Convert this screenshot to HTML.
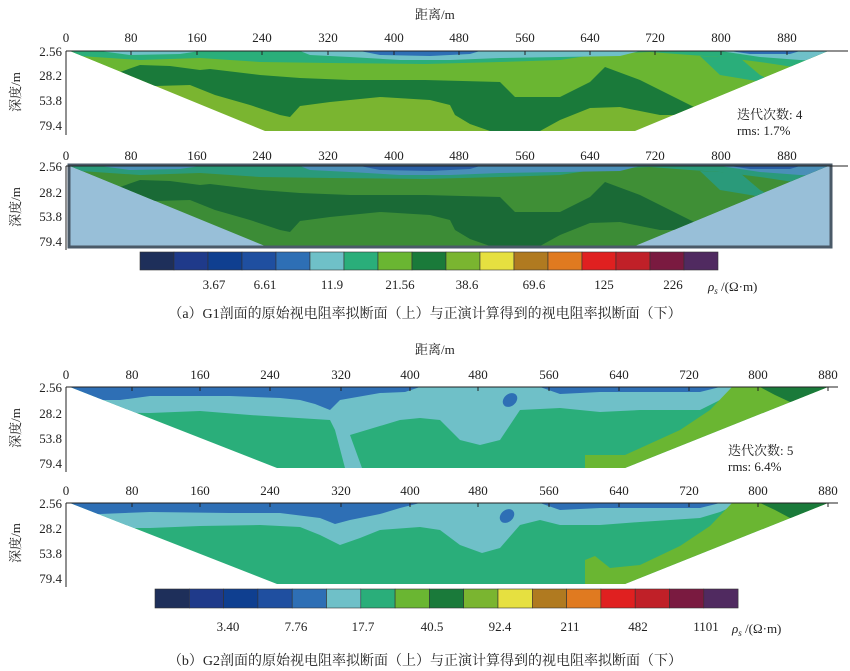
<!DOCTYPE html>
<html><head><meta charset="utf-8"><style>
html,body{margin:0;padding:0;background:#fff;}
svg{display:block;}
text{font-family:"Liberation Serif","Noto Serif CJK SC",serif;font-size:13px;fill:#222;}
</style></head><body>
<svg width="850" height="671" viewBox="0 0 850 671" xmlns="http://www.w3.org/2000/svg">
<defs>
<clipPath id="tA"><polygon points="70,51 828,51 635,131 265,131"/></clipPath>
<clipPath id="tB"><polygon points="70,387 828,387 625,468 277,468"/></clipPath>
<clipPath id="tB2"><polygon points="70,503 828,503 625,584 277,584"/></clipPath>
<g id="adata">
 <rect x="60" y="45" width="780" height="90" style="fill:var(--bot)"/>
 <polygon style="fill:var(--lg)" points="60,50 840,50 840,131 700,110 680,115 660,115 620,107 590,108 560,120 540,131 490,131 470,124 455,115 450,105 430,100 380,97 330,102 300,106 290,117 280,115 250,105 215,95 190,85 155,86 60,80"/>
 <polygon style="fill:var(--dg)" points="120,72 140,65 170,66 200,70 210,69 260,75 300,78 350,80 425,80 500,82 515,97 560,97 590,82 605,67 640,80 680,100 700,110 680,115 660,115 620,107 590,108 560,120 540,131 490,131 470,124 455,115 450,105 430,100 380,97 330,102 300,106 290,117 280,115 250,105 215,95 190,85 155,86 120,80"/>
 <polygon style="fill:var(--tl)" points="60,50 840,50 840,85 800,68 760,62 720,57 690,55 650,52 600,54 560,60 500,62 425,64 330,63 260,62 200,58 140,60 80,56 60,55"/>
 <polygon style="fill:var(--tl)" points="700,56 740,58 760,75 770,80 780,85 720,75"/>
 <polygon style="fill:var(--lt)" points="300,51 640,51 620,56 560,57 500,58 450,60 400,60 350,57 310,55"/>
 <polygon style="fill:var(--lt)" points="720,51 840,51 840,62 800,60 760,57"/>
 <polygon style="fill:var(--bl)" points="360,51 480,51 470,54 430,56 380,55"/>
 <polygon style="fill:var(--bl)" points="730,51 800,51 790,54 750,54"/>
 <polygon style="fill:var(--lt)" points="100,51 200,51 180,54 130,55"/>
</g>
<g id="bdata">
 <rect x="60" y="380" width="780" height="95" fill="#2aae7a"/>
 <polygon fill="#6fc0c8" points="60,387 740,387 720,400 700,410 640,410 600,412 560,408 520,410 500,440 480,445 460,440 440,420 420,418 400,420 360,432 350,435 362,468 345,468 335,430 330,420 250,415 200,411 150,413 60,412"/>
 <polygon fill="#2e6fb5" points="60,387 420,387 405,392 380,393 340,400 330,410 315,404 300,400 280,398 230,396 150,396 120,400 100,400 60,398"/>
 <ellipse cx="510" cy="400" rx="8" ry="6" fill="#2e6fb5" transform="rotate(-40 510 400)"/>
 <polygon fill="#2e6fb5" points="540,387 720,387 700,392 650,392 600,392 560,394"/>
 <polygon fill="#6ab632" points="732,387 840,387 840,470 585,470 585,455 625,455 680,430 710,410"/>
 <polygon fill="#1a7a3a" points="760,387 828,387 810,400 790,402 775,395"/>
</g>
<g id="bdata2">
 <rect x="60" y="496" width="780" height="95" fill="#2aae7a"/>
 <polygon fill="#6fc0c8" points="60,503 740,503 720,512 700,518 640,522 600,525 560,525 540,520 520,525 500,548 482,553 460,545 440,530 420,527 380,530 360,538 340,545 320,535 300,527 260,525 200,526 150,528 60,528"/>
 <polygon fill="#2e6fb5" points="60,503 420,503 400,508 380,514 350,520 335,524 320,518 280,513 230,513 150,512 100,514 60,514"/>
 <ellipse cx="507" cy="516" rx="8" ry="6" fill="#2e6fb5" transform="rotate(-40 507 516)"/>
 <polygon fill="#2e6fb5" points="540,503 720,503 700,508 650,508 600,508 560,510"/>
 <polygon fill="#6ab632" points="732,503 840,503 840,590 585,590 585,560 595,556 610,568 640,565 680,546 710,526"/>
 <polygon fill="#1a7a3a" points="760,503 828,503 810,518 790,518 775,510"/>
</g>
</defs>

<text x="415" y="19">距离/m</text>
<g text-anchor="middle">
<text x="66" y="42">0</text><text x="131" y="42">80</text><text x="197" y="42">160</text><text x="262" y="42">240</text><text x="328" y="42">320</text><text x="394" y="42">400</text><text x="459" y="42">480</text><text x="525" y="42">560</text><text x="590" y="42">640</text><text x="655" y="42">720</text><text x="721" y="42">800</text><text x="787" y="42">880</text>
</g>
<g clip-path="url(#tA)" style="--bot:#7ab530;--lg:#6ab632;--dg:#1a7a3a;--tl:#2aae7a;--lt:#6fc0c8;--bl:#2e6fb5">
 <use href="#adata"/>
</g>
<line x1="66" y1="51" x2="848" y2="51" stroke="#222"/>
<line x1="66" y1="51" x2="66" y2="135" stroke="#222"/>
<g stroke="#222"><line x1="131" y1="51" x2="131" y2="55"/><line x1="197" y1="51" x2="197" y2="55"/><line x1="262" y1="51" x2="262" y2="55"/><line x1="328" y1="51" x2="328" y2="55"/><line x1="394" y1="51" x2="394" y2="55"/><line x1="459" y1="51" x2="459" y2="55"/><line x1="525" y1="51" x2="525" y2="55"/><line x1="590" y1="51" x2="590" y2="55"/><line x1="655" y1="51" x2="655" y2="55"/><line x1="721" y1="51" x2="721" y2="55"/><line x1="787" y1="51" x2="787" y2="55"/></g>
<g text-anchor="end"><text x="62" y="56">2.56</text><text x="62" y="80">28.2</text><text x="62" y="105">53.8</text><text x="62" y="130">79.4</text></g>
<text transform="translate(20,92) rotate(-90)" text-anchor="middle">深度/m</text>
<text x="737" y="119">迭代次数: 4</text>
<text x="737" y="135">rms: 1.7%</text>

<g text-anchor="middle">
<text x="66" y="160">0</text><text x="131" y="160">80</text><text x="197" y="160">160</text><text x="262" y="160">240</text><text x="328" y="160">320</text><text x="394" y="160">400</text><text x="459" y="160">480</text><text x="525" y="160">560</text><text x="590" y="160">640</text><text x="655" y="160">720</text><text x="721" y="160">800</text><text x="787" y="160">880</text>
</g>
<rect x="69" y="165" width="762" height="82" fill="#98bfd8"/>
<g transform="translate(0,115)"><g clip-path="url(#tA)" style="--bot:#3c8c36;--lg:#3f8f36;--dg:#1a6a36;--tl:#2a9a7a;--lt:#4a8fb8;--bl:#2a5fa5">
 <use href="#adata"/>
</g></g>
<rect x="69" y="165" width="762" height="82" fill="none" stroke="#4a5a68" stroke-width="3"/>
<line x1="66" y1="166" x2="848" y2="166" stroke="#222"/>
<line x1="66" y1="166" x2="66" y2="250" stroke="#222"/>
<g text-anchor="end"><text x="62" y="171">2.56</text><text x="62" y="197">28.2</text><text x="62" y="221">53.8</text><text x="62" y="246">79.4</text></g>
<text transform="translate(20,207) rotate(-90)" text-anchor="middle">深度/m</text>

<g stroke="#333" stroke-width="0.6">
<rect x="140" y="252" width="34" height="18" fill="#1e2f5a"/><rect x="174" y="252" width="34" height="18" fill="#1f3a8a"/><rect x="208" y="252" width="34" height="18" fill="#0f3f90"/><rect x="242" y="252" width="34" height="18" fill="#1f4fa0"/><rect x="276" y="252" width="34" height="18" fill="#2e6fb5"/><rect x="310" y="252" width="34" height="18" fill="#6fc0c8"/><rect x="344" y="252" width="34" height="18" fill="#2aae7a"/><rect x="378" y="252" width="34" height="18" fill="#6ab632"/><rect x="412" y="252" width="34" height="18" fill="#1a7a3a"/><rect x="446" y="252" width="34" height="18" fill="#7ab530"/><rect x="480" y="252" width="34" height="18" fill="#e6e040"/><rect x="514" y="252" width="34" height="18" fill="#b07a20"/><rect x="548" y="252" width="34" height="18" fill="#e07a20"/><rect x="582" y="252" width="34" height="18" fill="#e02020"/><rect x="616" y="252" width="34" height="18" fill="#c02028"/><rect x="650" y="252" width="34" height="18" fill="#7a1a40"/><rect x="684" y="252" width="34" height="18" fill="#502a60"/>
</g>
<g text-anchor="middle"><text x="214" y="289">3.67</text><text x="265" y="289">6.61</text><text x="332" y="289">11.9</text><text x="400" y="289">21.56</text><text x="467" y="289">38.6</text><text x="534" y="289">69.6</text><text x="604" y="289">125</text><text x="673" y="289">226</text></g>
<text x="708" y="291" font-style="italic">ρ<tspan font-size="9" dy="3">s</tspan><tspan dy="-3" font-style="normal"> /(Ω·m)</tspan></text>
<text x="425" y="318" text-anchor="middle" style="font-size:14px">（a）G1剖面的原始视电阻率拟断面（上）与正演计算得到的视电阻率拟断面（下）</text>

<text x="415" y="354">距离/m</text>
<g text-anchor="middle">
<text x="66" y="379">0</text><text x="132" y="379">80</text><text x="200" y="379">160</text><text x="270" y="379">240</text><text x="341" y="379">320</text><text x="410" y="379">400</text><text x="478" y="379">480</text><text x="549" y="379">560</text><text x="619" y="379">640</text><text x="689" y="379">720</text><text x="758" y="379">800</text><text x="828" y="379">880</text>
</g>
<g clip-path="url(#tB)"><use href="#bdata"/></g>
<line x1="66" y1="387" x2="838" y2="387" stroke="#222"/>
<line x1="66" y1="387" x2="66" y2="472" stroke="#222"/>
<g stroke="#222"><line x1="132" y1="387" x2="132" y2="391"/><line x1="200" y1="387" x2="200" y2="391"/><line x1="270" y1="387" x2="270" y2="391"/><line x1="341" y1="387" x2="341" y2="391"/><line x1="410" y1="387" x2="410" y2="391"/><line x1="478" y1="387" x2="478" y2="391"/><line x1="549" y1="387" x2="549" y2="391"/><line x1="619" y1="387" x2="619" y2="391"/><line x1="689" y1="387" x2="689" y2="391"/><line x1="758" y1="387" x2="758" y2="391"/><line x1="828" y1="387" x2="828" y2="391"/></g>
<g text-anchor="end"><text x="62" y="392">2.56</text><text x="62" y="418">28.2</text><text x="62" y="443">53.8</text><text x="62" y="468">79.4</text></g>
<text transform="translate(20,428) rotate(-90)" text-anchor="middle">深度/m</text>
<text x="728" y="455">迭代次数: 5</text>
<text x="728" y="471">rms: 6.4%</text>

<g text-anchor="middle">
<text x="66" y="495">0</text><text x="132" y="495">80</text><text x="200" y="495">160</text><text x="270" y="495">240</text><text x="341" y="495">320</text><text x="410" y="495">400</text><text x="478" y="495">480</text><text x="549" y="495">560</text><text x="619" y="495">640</text><text x="689" y="495">720</text><text x="758" y="495">800</text><text x="828" y="495">880</text>
</g>
<g clip-path="url(#tB2)"><use href="#bdata2"/></g>
<line x1="66" y1="503" x2="838" y2="503" stroke="#222"/>
<line x1="66" y1="503" x2="66" y2="587" stroke="#222"/>
<g stroke="#222"><line x1="132" y1="503" x2="132" y2="507"/><line x1="200" y1="503" x2="200" y2="507"/><line x1="270" y1="503" x2="270" y2="507"/><line x1="341" y1="503" x2="341" y2="507"/><line x1="410" y1="503" x2="410" y2="507"/><line x1="478" y1="503" x2="478" y2="507"/><line x1="549" y1="503" x2="549" y2="507"/><line x1="619" y1="503" x2="619" y2="507"/><line x1="689" y1="503" x2="689" y2="507"/><line x1="758" y1="503" x2="758" y2="507"/><line x1="828" y1="503" x2="828" y2="507"/></g>
<g text-anchor="end"><text x="62" y="508">2.56</text><text x="62" y="533">28.2</text><text x="62" y="558">53.8</text><text x="62" y="583">79.4</text></g>
<text transform="translate(20,543) rotate(-90)" text-anchor="middle">深度/m</text>

<g stroke="#333" stroke-width="0.6">
<rect x="155" y="589" width="34.3" height="19" fill="#1e2f5a"/><rect x="189.3" y="589" width="34.3" height="19" fill="#1f3a8a"/><rect x="223.6" y="589" width="34.3" height="19" fill="#0f3f90"/><rect x="257.9" y="589" width="34.3" height="19" fill="#1f4fa0"/><rect x="292.2" y="589" width="34.3" height="19" fill="#2e6fb5"/><rect x="326.5" y="589" width="34.3" height="19" fill="#6fc0c8"/><rect x="360.8" y="589" width="34.3" height="19" fill="#2aae7a"/><rect x="395.1" y="589" width="34.3" height="19" fill="#6ab632"/><rect x="429.4" y="589" width="34.3" height="19" fill="#1a7a3a"/><rect x="463.7" y="589" width="34.3" height="19" fill="#7ab530"/><rect x="498" y="589" width="34.3" height="19" fill="#e6e040"/><rect x="532.3" y="589" width="34.3" height="19" fill="#b07a20"/><rect x="566.6" y="589" width="34.3" height="19" fill="#e07a20"/><rect x="600.9" y="589" width="34.3" height="19" fill="#e02020"/><rect x="635.2" y="589" width="34.3" height="19" fill="#c02028"/><rect x="669.5" y="589" width="34.3" height="19" fill="#7a1a40"/><rect x="703.8" y="589" width="34.3" height="19" fill="#502a60"/>
</g>
<g text-anchor="middle"><text x="228" y="631">3.40</text><text x="296" y="631">7.76</text><text x="363" y="631">17.7</text><text x="432" y="631">40.5</text><text x="500" y="631">92.4</text><text x="570" y="631">211</text><text x="638" y="631">482</text><text x="706" y="631">1101</text></g>
<text x="732" y="633" font-style="italic">ρ<tspan font-size="9" dy="3">s</tspan><tspan dy="-3" font-style="normal"> /(Ω·m)</tspan></text>
<text x="425" y="665" text-anchor="middle" style="font-size:14px">（b）G2剖面的原始视电阻率拟断面（上）与正演计算得到的视电阻率拟断面（下）</text>
</svg>
</body></html>
